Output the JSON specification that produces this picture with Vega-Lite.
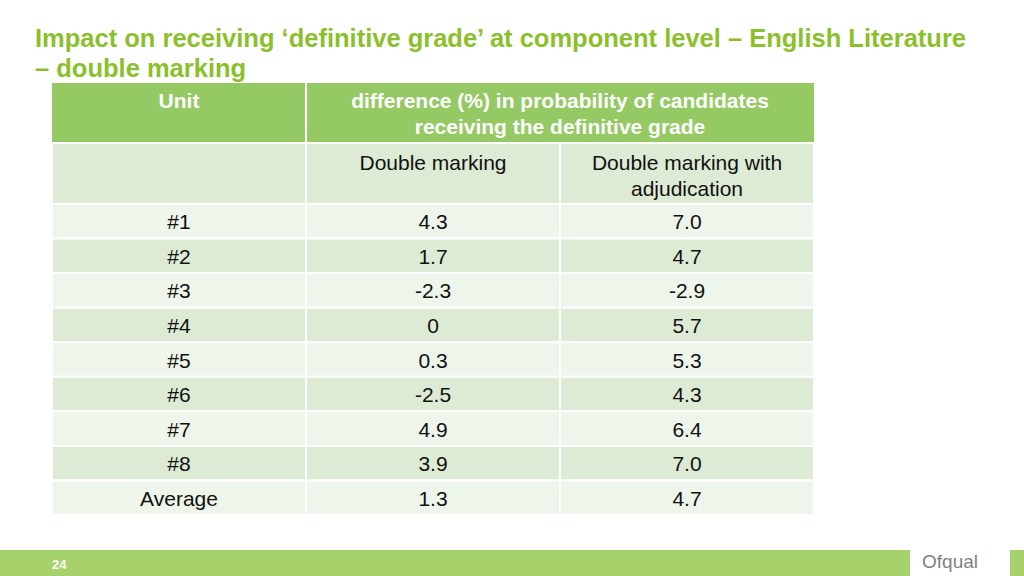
{
  "$schema": "https://vega.github.io/schema/vega-lite/v6.json",
  "padding": {"left": 0, "right": 0, "top": 26, "bottom": 0},
  "spacing": 0,
  "bounds": "flush",
  "background": "white",
  "config": {
    "view": {"stroke": null},
    "font": "Liberation Sans",
    "locale": {"number": {"decimal": ".", "thousands": ",", "grouping": [3], "currency": ["", ""], "minus": "-"}}
  },
  "title": {
    "text": ["Impact on receiving ‘definitive grade’ at component level – English Literature", "– double marking"],
    "anchor": "start",
    "dx": 35,
    "font": "Liberation Sans",
    "fontSize": 25.5,
    "fontWeight": "bold",
    "color": "#8CBF2C",
    "lineHeight": 30,
    "offset": 0
  },
  "vconcat": [
    {
      "width": 1024,
      "height": 60,
      "layer": [
        {
          "data": {"values": [{"col": "unit"}, {"col": "dm"}, {"col": "dma"}]},
          "mark": {"type": "rect", "fill": "#94C963"},
          "encoding": {
            "x": {"field": "col", "type": "nominal", "axis": null, "scale": {"type": "band", "domain": ["unit", "dm", "dma"], "range": [52, 814], "paddingInner": 0, "paddingOuter": 0}}
          }
        },
        {
          "data": {"values": [{"col": "dm"}]},
          "mark": {"type": "rule", "stroke": "white", "strokeWidth": 2},
          "encoding": {
            "x": {"field": "col", "type": "nominal", "bandPosition": 0, "axis": null}
          }
        },
        {
          "data": {"values": [{"col": "unit", "label": ["Unit"]}]},
          "mark": {"type": "text", "baseline": "top", "dy": -22, "fontSize": 21, "fontWeight": "bold", "color": "white", "lineHeight": 26},
          "encoding": {
            "x": {"field": "col", "type": "nominal", "axis": null},
            "text": {"field": "label"}
          }
        },
        {
          "data": {"values": [{"col": "dma", "label": ["difference (%) in probability of candidates", "receiving the  definitive grade"]}]},
          "mark": {"type": "text", "baseline": "top", "dy": -22, "fontSize": 21, "fontWeight": "bold", "color": "white", "lineHeight": 26},
          "encoding": {
            "x": {"field": "col", "type": "nominal", "bandPosition": 0, "axis": null},
            "text": {"field": "label"}
          }
        }
      ]
    },
    {
      "width": 1024,
      "height": 61,
      "data": {"values": [
        {"col": "unit", "label": [""]},
        {"col": "dm", "label": ["Double marking"]},
        {"col": "dma", "label": ["Double marking with", "adjudication"]}
      ]},
      "encoding": {
        "x": {"field": "col", "type": "nominal", "axis": null, "scale": {"type": "band", "domain": ["unit", "dm", "dma"], "range": [52, 814], "paddingInner": 0, "paddingOuter": 0}}
      },
      "layer": [
        {"mark": {"type": "rect", "fill": "#DDEBD5", "stroke": "white", "strokeWidth": 2}},
        {
          "mark": {"type": "text", "baseline": "top", "dy": -21, "fontSize": 21, "color": "#111111", "lineHeight": 26},
          "encoding": {"text": {"field": "label"}}
        }
      ]
    },
    {
      "width": 1024,
      "height": 311,
      "data": {"values": [
        {"unit": "#1", "dm": 4.3, "dma": 7.0},
        {"unit": "#2", "dm": 1.7, "dma": 4.7},
        {"unit": "#3", "dm": -2.3, "dma": -2.9},
        {"unit": "#4", "dm": 0, "dma": 5.7},
        {"unit": "#5", "dm": 0.3, "dma": 5.3},
        {"unit": "#6", "dm": -2.5, "dma": 4.3},
        {"unit": "#7", "dm": 4.9, "dma": 6.4},
        {"unit": "#8", "dm": 3.9, "dma": 7.0},
        {"unit": "Average", "dm": 1.3, "dma": 4.7}
      ]},
      "encoding": {
        "y": {"field": "unit", "type": "nominal", "sort": null, "axis": null, "scale": {"type": "band", "paddingInner": 0, "paddingOuter": 0}}
      },
      "layer": [
        {
          "transform": [{"fold": ["unit", "dm", "dma"], "as": ["col", "cell"]}],
          "mark": {"type": "rect", "stroke": "white", "strokeWidth": 2},
          "encoding": {
            "x": {"field": "col", "type": "nominal", "axis": null, "scale": {"type": "band", "domain": ["unit", "dm", "dma"], "range": [52, 814], "paddingInner": 0, "paddingOuter": 0}},
            "fill": {"field": "unit", "type": "nominal", "legend": null, "scale": {"domain": ["#1", "#2", "#3", "#4", "#5", "#6", "#7", "#8", "Average"], "range": ["#EEF5EA", "#DDEBD5", "#EEF5EA", "#DDEBD5", "#EEF5EA", "#DDEBD5", "#EEF5EA", "#DDEBD5", "#EEF5EA"]}}
          }
        },
        {
          "mark": {"type": "text", "fontSize": 21, "color": "#111111", "dy": 2},
          "encoding": {
            "x": {"datum": "unit"},
            "text": {"field": "unit"}
          }
        },
        {
          "transform": [{"fold": ["dm", "dma"], "as": ["col", "value"]}],
          "mark": {"type": "text", "fontSize": 21, "color": "#111111", "dy": 2},
          "encoding": {
            "x": {"field": "col", "type": "nominal"},
            "text": {"condition": {"test": "datum.value === 0", "value": "0"}, "field": "value", "type": "quantitative", "format": ".1f"}
          }
        }
      ]
    },
    {
      "width": 1024,
      "height": 35,
      "data": {"values": []},
      "mark": "point",
      "encoding": {}
    },
    {
      "width": 1024,
      "height": 27,
      "layer": [
        {
          "data": {"values": [{"part": "band"}]},
          "mark": {"type": "rect", "fill": "#A7D26B"},
          "encoding": {}
        },
        {
          "data": {"values": [{"part": "logo"}]},
          "mark": {"type": "rect", "fill": "white"},
          "encoding": {
            "x": {"datum": 910, "type": "quantitative", "axis": null, "scale": {"domain": [0, 1024], "range": [0, 1024], "nice": false, "zero": false}},
            "x2": {"datum": 1010}
          }
        },
        {
          "data": {"values": [{"page": "24"}]},
          "mark": {"type": "text", "align": "left", "fontSize": 13, "fontWeight": "bold", "color": "white", "font": "Liberation Sans", "dy": 1},
          "encoding": {
            "x": {"datum": 52, "type": "quantitative"},
            "text": {"field": "page"}
          }
        },
        {
          "data": {"values": [{"brand": "Ofqual"}]},
          "mark": {"type": "text", "align": "center", "fontSize": 19, "color": "#7F7F7F", "font": "Liberation Sans", "dy": -2},
          "encoding": {
            "x": {"datum": 950, "type": "quantitative"},
            "text": {"field": "brand"}
          }
        }
      ]
    }
  ]
}
